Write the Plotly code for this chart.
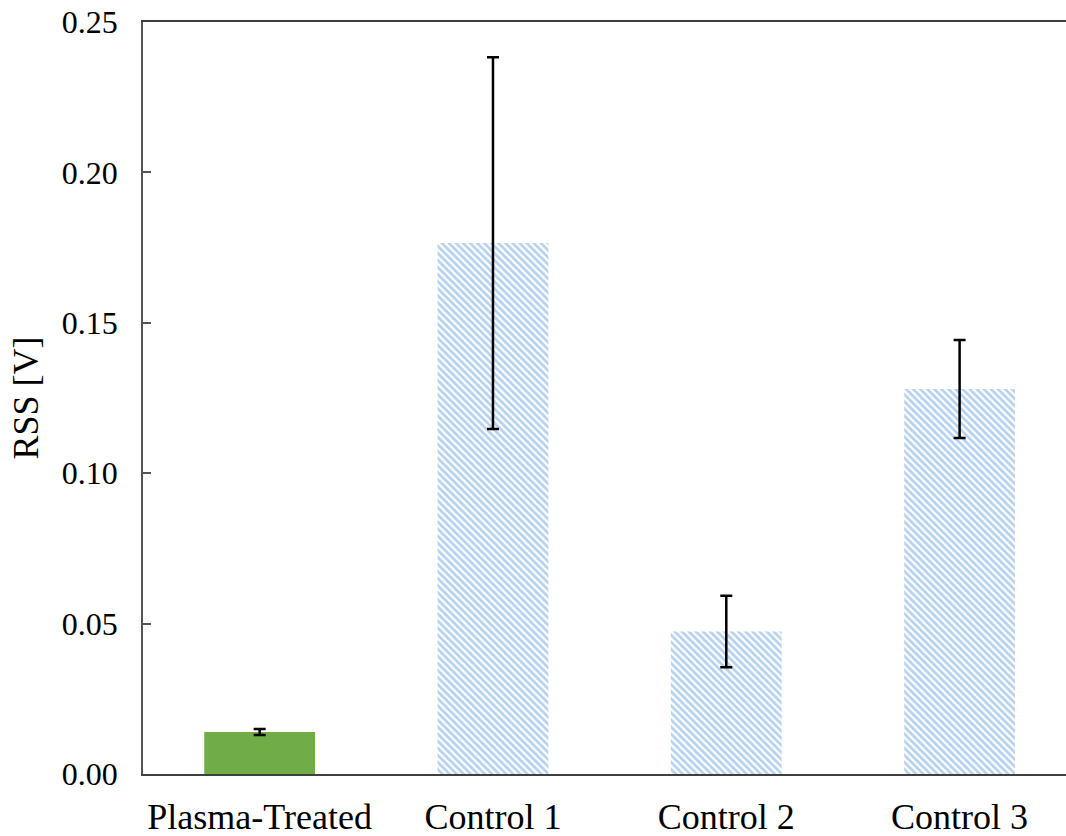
import plotly.graph_objects as go

categories = ["Plasma-Treated", "Control 1", "Control 2", "Control 3"]
rss_values = [0.0140, 0.1765, 0.0474, 0.1280]
rss_errors = [0.0010, 0.0618, 0.0119, 0.0163]
y_ticks = [0.00, 0.05, 0.10, 0.15, 0.20, 0.25]
y_tick_labels = ["0.00", "0.05", "0.10", "0.15", "0.20", "0.25"]

font_family = "Liberation Serif"

fig = go.Figure()

fig.add_trace(go.Bar(
    x=categories[:1], y=rss_values[:1],
    width=0.475,
    marker=dict(color="#70AD47", line=dict(width=0)),
    error_y=dict(type="data", array=rss_errors[:1], color="black", thickness=2.5, width=6),
    showlegend=False,
))

fig.add_trace(go.Bar(
    x=categories[1:], y=rss_values[1:],
    width=0.475,
    marker=dict(color="white", line=dict(width=0),
                pattern=dict(shape="\\", fgcolor="#6FA5DF", bgcolor="white",
                             size=5, solidity=0.55, fillmode="overlay")),
    error_y=dict(type="data", array=rss_errors[1:], color="black", thickness=2.5, width=6),
    showlegend=False,
))

fig.update_layout(
    width=1066, height=836,
    margin=dict(l=143, r=0, t=22, b=62),
    paper_bgcolor="white", plot_bgcolor="white",
    barmode="overlay",
    font=dict(family=font_family, color="black"),
    xaxis=dict(
        type="category", categoryorder="array", categoryarray=categories,
        range=[-0.5, 3.456],
        showline=True, linecolor="#404040", linewidth=1.5, mirror=True,
        ticks="", showgrid=False, zeroline=False,
        tickfont=dict(size=36, family=font_family, color="black"),
        ticklabelstandoff=10,
    ),
    yaxis=dict(
        range=[0, 0.25],
        tickvals=y_ticks, ticktext=y_tick_labels,
        showline=True, linecolor="#555555", linewidth=1.5,
        ticks="inside", ticklen=8, tickwidth=1.5, tickcolor="#555555",
        showgrid=False, zeroline=False,
        tickfont=dict(size=32, family=font_family, color="black"),
        ticklabelstandoff=17,
        title=dict(text="RSS [V]", font=dict(size=36, family=font_family, color="black"), standoff=12),
        automargin=False,
    ),
)

fig.write_html("out.html")
